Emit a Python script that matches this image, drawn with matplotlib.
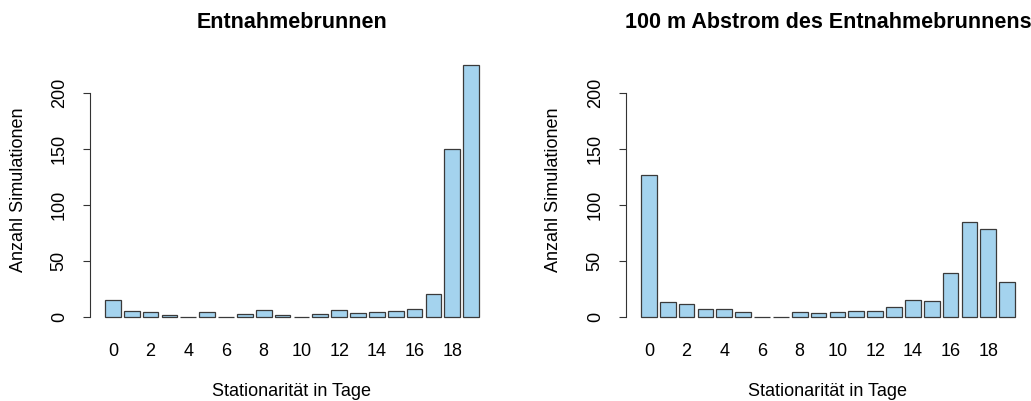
import numpy as np
import matplotlib.pyplot as plt

plt.rcParams['font.family'] = ['Liberation Sans', 'DejaVu Sans']

# Stationarity class (days) and number of simulations per class
days = np.arange(20)
counts_brunnen = [15, 5, 4, 1, 0, 4, 0, 2, 6, 1, 0, 2, 6, 3, 4, 5, 7, 20, 150, 225]
counts_abstrom = [126, 13, 11, 7, 7, 4, 0, 0, 4, 3, 4, 5, 5, 9, 15, 14, 39, 84, 78, 31]
titles = ["Entnahmebrunnen", "100 m Abstrom des Entnahmebrunnens"]
tick_days = [0, 2, 4, 6, 8, 10, 12, 14, 16, 18]

W, H = 1031, 401
fig = plt.figure(figsize=(W / 100, H / 100), dpi=100)

bar_fill = "#A4D3EE"
bar_edge = "#3a3a3a"

# R barplot geometry: width 1, space 0.2
xc = 0.7 + 1.2 * days
xlim = (-0.752, 24.952)
ylim = (-8.4, 234.4)

panels = [(90, 494), (626, 1030)]
top_px, bot_px = 54, 326
ax_h = bot_px - top_px

for (x0, x1), counts, title in zip(panels, [counts_brunnen, counts_abstrom], titles):
    ax_w = x1 - x0
    ax = fig.add_axes([x0 / W, 1 - bot_px / H, ax_w / W, ax_h / H])
    ax.bar(xc, counts, width=1.0, color=bar_fill, edgecolor=bar_edge, linewidth=0.9)
    ax.set_xlim(*xlim)
    ax.set_ylim(*ylim)

    for s in ["top", "right", "bottom"]:
        ax.spines[s].set_visible(False)
    ax.spines["left"].set_bounds(0, 200)
    ax.spines["left"].set_color("#333333")
    ax.spines["left"].set_linewidth(0.8)

    ax.set_yticks([0, 50, 100, 150, 200])
    ax.tick_params(axis="y", length=5, width=0.8, color="#333333",
                   labelsize=13, pad=11)
    for lab in ax.get_yticklabels():
        lab.set_rotation(90)
        lab.set_va("center")

    ax.set_xticks(xc[tick_days])
    ax.set_xticklabels([str(d) for d in tick_days])
    ax.tick_params(axis="x", length=0, labelsize=13, pad=12)

    ax.set_xlabel("Stationarität in Tage", fontsize=13)
    ax.xaxis.set_label_coords(0.5, -(392 - bot_px) / ax_h)
    ax.xaxis.label.set_va("center")
    ax.set_ylabel("Anzahl Simulationen", fontsize=13)
    ax.yaxis.set_label_coords(-72 / ax_w, 0.5)
    ax.yaxis.label.set_va("center")

    ax.text(0.5, 1 + (top_px - 23) / ax_h, title, transform=ax.transAxes,
            ha="center", va="center", fontsize=15.5, fontweight="bold")

fig.savefig("out.png", dpi=100)
